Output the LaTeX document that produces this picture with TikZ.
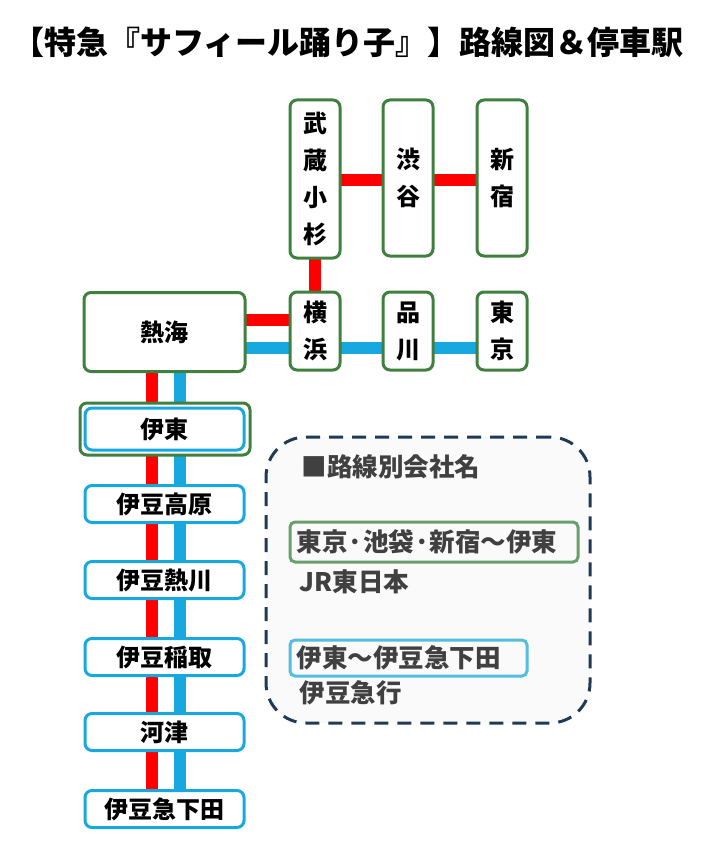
\documentclass[tikz,border=0pt]{standalone}
\usepackage{fontspec}
\setmainfont{Noto Sans CJK JP}[UprightFont=* Black]
\usetikzlibrary{positioning}
\definecolor{jrgreen}{HTML}{3F7F3F}
\definecolor{izublue}{HTML}{18A8E0}
\definecolor{legnavy}{HTML}{1F3A55}
\definecolor{leggreen}{HTML}{6A9E6A}
\definecolor{legblue}{HTML}{55BDE0}
\definecolor{txtgray}{HTML}{404040}
\begin{document}
\begin{tikzpicture}
[x=1pt,y=-1pt,line width=3pt]
  \tikzstyle{station}=[draw=jrgreen,fill=white,rounded corners=7pt,inner sep=0pt,font=\fontsize{24}{37}\selectfont,align=center]
  \tikzstyle{vstation}=[station,minimum width=50pt]
  \tikzstyle{izu}=[station,draw=izublue,minimum width=159pt,minimum height=37pt]
  \tikzstyle{red line}=[draw=red,line width=12pt]
  \tikzstyle{blue line}=[draw=izublue,line width=12pt]
  \tikzstyle{legtext}=[anchor=west,text=txtgray,font=\fontsize{25.5}{28}\selectfont,inner sep=0pt]
  \useasboundingbox (0,0) rectangle (707,845);

  \node[font=\fontsize{32}{34}\selectfont] (title) at (348,42) {【特急『サフィール踊り子』】路線図＆停車駅};

  % lines first
  \coordinate (redtop) at (152,372);
  \coordinate (redbot) at (152,810);
  \coordinate (bluetop) at (180,372);
  \coordinate (bluebot) at (180,810);
  \path[red line] (redtop) -- (redbot);
  \path[blue line] (bluetop) -- (bluebot);
  \path[red line] (315,180) -- (502,180);
  \path[red line] (315,250) -- (315,300);
  \path[red line] (240,320) -- (315,320);
  \path[blue line] (240,348) -- (502,348);

  \node[vstation,minimum height=158pt] (Musashi) at (315,179) {武\\蔵\\小\\杉};
  \node[vstation,minimum height=156pt] (Shibuya) at (408,178) {渋\\谷};
  \node[vstation,minimum height=156pt] (Shinjuku) at (502,178) {新\\宿};
  \node[vstation,minimum height=78pt] (Yokohama) at (315,331) {横\\浜};
  \node[vstation,minimum height=78pt] (Shinagawa) at (408,331) {品\\川};
  \node[vstation,minimum height=78pt] (Tokyo) at (502,331) {東\\京};
  \node[station,minimum width=161pt,minimum height=79pt] (Atami) at (164.5,332) {熱海};

  \node[station,minimum width=170pt,minimum height=52pt] (Itoouter) at (165,429) {};
  \node[izu,minimum height=42pt] (Ito) at (164.5,429) {伊東};
  \node[izu] (Kogen) at (164.5,504) {伊豆高原};
  \node[izu] (Atagawa) at (164.5,580) {伊豆熱川};
  \node[izu] (Inatori) at (164.5,657) {伊豆稲取};
  \node[izu] (Kawazu) at (164.5,732) {河津};
  \node[izu] (Shimoda) at (164.5,809) {伊豆急下田};

  % legend
  \node[draw=legnavy,fill=black!2,dash pattern=on 14pt off 9pt,rounded corners=40pt,minimum width=324pt,minimum height=286pt] (legend) at (428,580) {};
  \node[legtext] (legtitle) at (300,467) {■路線別会社名};
  \node[draw=leggreen,rounded corners=5pt,line width=3pt,minimum width=288pt,minimum height=40pt,inner sep=0pt] (jrbox) at (434,542) {};
  \node[legtext] (jrroute) at (295,542) {東京·池袋·新宿～伊東};
  \node[legtext] (jrname) at (298,582) {JR東日本};
  \node[draw=legblue,rounded corners=5pt,line width=3pt,minimum width=237pt,minimum height=36pt,inner sep=0pt] (izubox) at (408.5,658) {};
  \node[legtext] (izuroute) at (295,658) {伊東～伊豆急下田};
  \node[legtext] (izuname) at (298,693) {伊豆急行};
\end{tikzpicture}
\end{document}
